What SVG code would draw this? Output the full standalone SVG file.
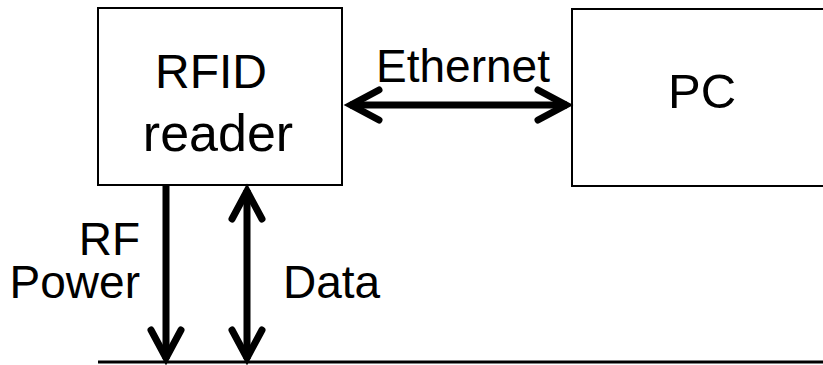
<svg xmlns="http://www.w3.org/2000/svg" width="823" height="365" viewBox="0 0 823 365">
  <style>
    .box { fill: #ffffff; stroke: #000000; stroke-width: 2; }
    .lbl { font-family: "Liberation Sans", Arial, sans-serif; font-size: 46px; fill: #000000; }
    .shaft { stroke: #000000; stroke-width: 7; fill: none; stroke-linecap: butt; }
    .ground { stroke: #000000; stroke-width: 3; fill: none; }
  </style>
  <defs>
    <marker id="chev" viewBox="-40 -25 50 50" refX="0" refY="0" markerWidth="50" markerHeight="50" markerUnits="userSpaceOnUse" orient="auto-start-reverse" overflow="visible">
      <path d="M -29 -15 L -1 0 L -29 15" fill="none" stroke="#000000" stroke-width="7" stroke-linecap="round" stroke-linejoin="miter"/>
    </marker>
  </defs>

  <g id="rfid-reader">
    <rect class="box" x="98" y="8" width="244" height="177"/>
    <text class="lbl" x="211" y="88" text-anchor="middle" style="font-size:48px">RFID</text>
    <text class="lbl" x="218" y="151" text-anchor="middle" style="font-size:52px">reader</text>
  </g>

  <g id="pc">
    <rect class="box" x="572" y="9" width="270" height="177"/>
    <text class="lbl" x="702" y="108" text-anchor="middle" style="font-size:49px">PC</text>
  </g>

  <g id="bus">
    <line class="ground" x1="98" y1="362" x2="823" y2="362"/>
  </g>

  <g id="connectors">
    <line class="shaft" x1="350" y1="105" x2="567" y2="105" marker-start="url(#chev)" marker-end="url(#chev)"/>
    <line class="shaft" x1="166" y1="186" x2="166" y2="359" marker-end="url(#chev)"/>
    <line class="shaft" x1="247" y1="190" x2="247" y2="359" marker-start="url(#chev)" marker-end="url(#chev)"/>
  </g>

  <g id="labels">
    <text class="lbl" x="463" y="82" text-anchor="middle">Ethernet</text>
    <text class="lbl" x="140" y="255" text-anchor="end">RF</text>
    <text class="lbl" x="140" y="298" text-anchor="end">Power</text>
    <text class="lbl" x="283" y="298">Data</text>
  </g>
</svg>
